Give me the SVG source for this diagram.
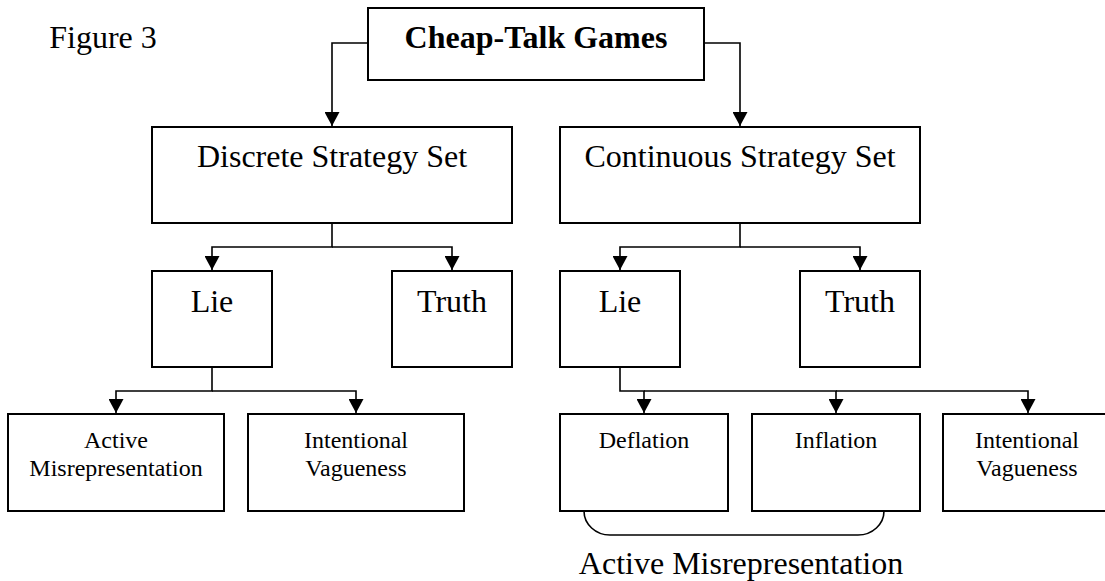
<svg xmlns="http://www.w3.org/2000/svg" width="1105" height="581" viewBox="0 0 1105 581">
<style>
.box{fill:#fff;stroke:#000;stroke-width:2}
.t{font-family:"Liberation Serif","Times New Roman",serif;fill:#000;text-anchor:middle}
.big{font-size:32px}
.small{font-size:24px}
.bold{font-weight:bold}
.con{fill:none;stroke:#000;stroke-width:1.6}
</style>
<defs>
<marker id="arr" markerUnits="userSpaceOnUse" markerWidth="15" markerHeight="15" refX="14" refY="7.5" orient="auto">
<path d="M0,0 L14,7.5 L0,15 z" fill="#000"/>
</marker>
</defs>
<rect width="1105" height="581" fill="#fff"/>
<text class="t big" x="103" y="48">Figure 3</text>
<g id="connectors">
<path class="con" d="M368,43 H332 V126" marker-end="url(#arr)"/>
<path class="con" d="M704,43 H740 V126" marker-end="url(#arr)"/>
<path class="con" d="M332,223 V247 H212 V270" marker-end="url(#arr)"/>
<path class="con" d="M332,247 H452 V270" marker-end="url(#arr)"/>
<path class="con" d="M740,223 V247 H620 V270" marker-end="url(#arr)"/>
<path class="con" d="M740,247 H860 V270" marker-end="url(#arr)"/>
<path class="con" d="M212,367 V391 H116 V413" marker-end="url(#arr)"/>
<path class="con" d="M212,391 H356 V413" marker-end="url(#arr)"/>
<path class="con" d="M620,367 V391 H644 V413" marker-end="url(#arr)"/>
<path class="con" d="M644,391 H836 V413" marker-end="url(#arr)"/>
<path class="con" d="M836,391 H1028 V413" marker-end="url(#arr)"/>
<path class="con" stroke-width="1.4" d="M584,511 A26,24 0 0 0 610,535 L858,535 A26,24 0 0 0 884,511"/>
</g>
<g id="cheap-talk-games">
<rect class="box" x="368" y="8" width="336" height="72"/>
<text class="t big bold" x="536" y="48">Cheap-Talk Games</text>
</g>
<g id="discrete">
<rect class="box" x="152" y="127" width="360" height="96"/>
<text class="t big" x="332" y="167">Discrete Strategy Set</text>
</g>
<g id="continuous">
<rect class="box" x="560" y="127" width="360" height="96"/>
<text class="t big" x="740" y="167">Continuous Strategy Set</text>
</g>
<g id="lie-discrete">
<rect class="box" x="152" y="271" width="120" height="96"/>
<text class="t big" x="212" y="312">Lie</text>
</g>
<g id="truth-discrete">
<rect class="box" x="392" y="271" width="120" height="96"/>
<text class="t big" x="452" y="312">Truth</text>
</g>
<g id="lie-continuous">
<rect class="box" x="560" y="271" width="120" height="96"/>
<text class="t big" x="620" y="312">Lie</text>
</g>
<g id="truth-continuous">
<rect class="box" x="800" y="271" width="120" height="96"/>
<text class="t big" x="860" y="312">Truth</text>
</g>
<g id="active-misrep-discrete">
<rect class="box" x="8" y="414" width="216" height="97"/>
<text class="t small" x="116" y="448">Active</text>
<text class="t small" x="116" y="476">Misrepresentation</text>
</g>
<g id="vagueness-discrete">
<rect class="box" x="248" y="414" width="216" height="97"/>
<text class="t small" x="356" y="448">Intentional</text>
<text class="t small" x="356" y="476">Vagueness</text>
</g>
<g id="deflation">
<rect class="box" x="560" y="414" width="168" height="97"/>
<text class="t small" x="644" y="448">Deflation</text>
</g>
<g id="inflation">
<rect class="box" x="752" y="414" width="168" height="97"/>
<text class="t small" x="836" y="448">Inflation</text>
</g>
<g id="vagueness-continuous">
<rect class="box" x="943" y="414" width="168" height="97"/>
<text class="t small" x="1027" y="448">Intentional</text>
<text class="t small" x="1027" y="476">Vagueness</text>
</g>
<g id="active-misrep-label">
<text class="t big" x="741" y="574">Active Misrepresentation</text>
</g>
</svg>
